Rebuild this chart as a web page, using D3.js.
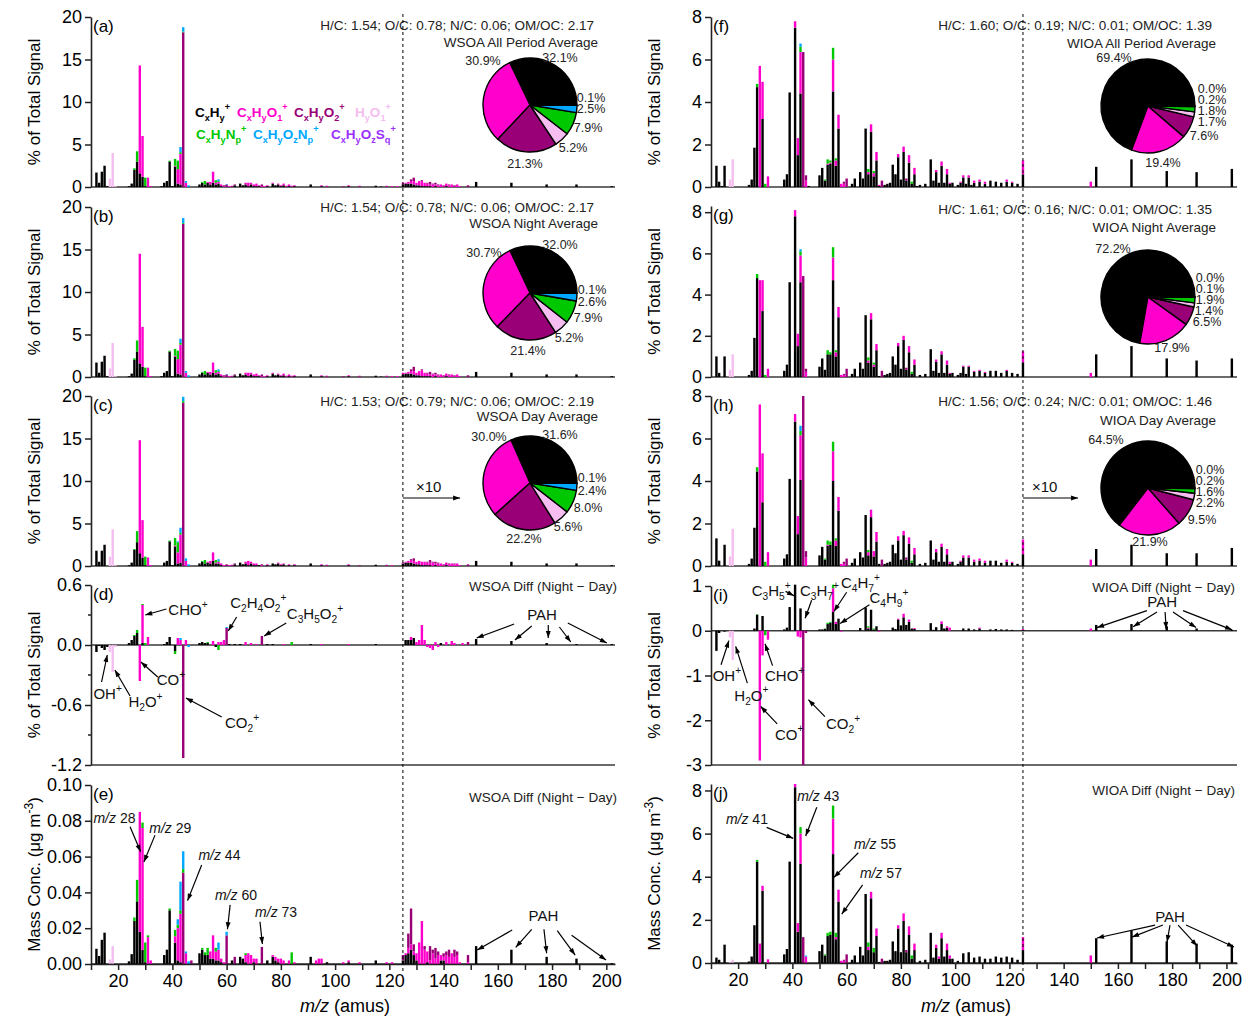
<!DOCTYPE html>
<html>
<head>
<meta charset="utf-8">
<script src="https://cdn.jsdelivr.net/npm/d3@7"></script>
<style>
  body { margin: 0; background: #fff; }
  svg { font-family: Arial, "Liberation Sans", sans-serif; }
</style>
</head>
<body>
<script>
// ion families, in stacking order
var famNames = ["C_xH_y^+", "C_xH_yO_1^+", "C_xH_yO_2^+", "H_yO_1^+", "C_xH_yN_p^+", "C_xH_yO_zN_p^+", "C_xH_yO_zS_q^+"];
var famColors = ["#000000", "#ff00cc", "#990077", "#f5bdf0", "#00c800", "#00a8ff", "#9b30ff"];

// rows: [m/z, CxHy, CxHyO1, CxHyO2, HyO1, CxHyNp, CxHyOzNp]  (m/z > 125 shown x10)
var wsoaAll = [[12,1.7],[13,0.5],[14,1.8],[15,2.5],[16,0.1],[17,0,0,0,1.0],[18,0,0,0,4.0],[19,0,0,0,0.1],
  [24,0.1],[25,0.4],[26,2.0,0,0,0,0.2],[27,3.0,0,0,0,1.2],[28,1.6,12.7],[29,1.2,4.8],[30,0.1,0,0,0,1.0],[31,0,1.1],[32,0,0.1],
  [36,0.1],[37,0.5],[38,0.7],[39,3.0,0,0,0,0.1],[40,0.1],[41,2.4,0.1,0,0,0.8],[42,0.4,1.7,0,0,1.0],[43,0.3,3.6,0,0,0.2,0.6],[44,0,0,18.2,0,0.1,0.5],[45,0,0.5,0,0,0,0.2],[46,0,0,0,0,0,0.2],
  [50,0.3],[51,0.5,0,0,0,0.1],[52,0.3,0,0,0,0.4],[53,0.5,0.1],[54,0.3,0.3],[55,0.5,1.3],[56,0.3,0.2,0,0,0.3],[57,0.4,0.2,0,0,0.1,0.2],[58,0.1,0.2],[59,0,0.1,0.1],[60,0,0,0.3,0,0,0.05],[61,0,0.1],[62,0.05,0.1],[63,0.2,0,0.1],
  [65,0.4],[66,0.2],[67,0.3,0.2],[68,0.1,0.4],[69,0.3,0.2],[70,0.1,0.2],[71,0.1,0.3],[72,0.1,0.1],[73,0,0.1,0.2],[74,0,0.1],[75,0.1,0.1],[77,0.4,0.1],[78,0.2],[79,0.3,0.1],[80,0.1,0.1],[81,0.2,0.2],[82,0.05,0.1],[83,0.1,0.2],[84,0.05,0.1],[85,0.1,0.1],
  [91,0.3],[95,0.1,0.1],[97,0.05,0.1],[103,0.05,0.05],[105,0.1,0.1],[109,0.05,0.1],[115,0.15],[117,0.05],[119,0.05,0.1],[121,0,0.1],[123,0,0.1],
  [125,0.3,0.2],[126,0.4,0.1],[127,0.4,0.2],[128,0.4,0.3,0.2],[129,0.3,0.4,0.4],[130,0.2,0.3],[131,0.2,0.5],[132,0.1,0.6,0.1],[133,0.1,0.4],[134,0.1,0.3,0.1],[135,0.1,0.2,0.3],[136,0,0.3,0.1],[137,0.1,0.2,0.2],[138,0,0.2,0.1],[139,0,0.3],[140,0,0.1,0.1],[141,0.1,0.3],[142,0,0.2,0.1],[143,0,0.3],[144,0,0.1,0.1],[145,0,0.3],[146,0,0.1],[149,0,0,0.2],
  [152,0.6],[165,0.5],[178,0.3],[189,0.3],[202,0.1]];

var wsoaNight = [[12,1.7],[13,0.5],[14,1.8],[15,2.5],[16,0.1],[17,0,0,0,1.0],[18,0,0,0,4.0],[19,0,0,0,0.1],
  [24,0.1],[25,0.4],[26,2.0,0,0,0,0.2],[27,3.0,0,0,0,1.3],[28,1.6,12.9],[29,1.2,4.7],[30,0.1,0,0,0,1.0],[31,0,1.1],[32,0,0.1],
  [36,0.1],[37,0.5],[38,0.7],[39,3.0,0,0,0,0.1],[40,0.1],[41,2.4,0.1,0,0,0.8],[42,0.4,1.7,0,0,1.0],[43,0.3,3.5,0,0,0.2,0.5],[44,0,0,18.0,0,0.1,0.6],[45,0,0.5,0,0,0,0.2],[46,0,0,0,0,0,0.2],
  [50,0.3],[51,0.5,0,0,0,0.1],[52,0.3,0,0,0,0.4],[53,0.5,0.1],[54,0.3,0.3],[55,0.5,1.2],[56,0.3,0.2,0,0,0.3],[57,0.4,0.2,0,0,0.1,0.2],[58,0.1,0.2],[59,0,0.1,0.1],[60,0,0,0.3,0,0,0.05],[61,0,0.1],[62,0.05,0.1],[63,0.2,0,0.1],
  [65,0.4],[66,0.2],[67,0.3,0.2],[68,0.1,0.4],[69,0.3,0.2],[70,0.1,0.2],[71,0.1,0.3],[72,0.1,0.1],[73,0,0.1,0.2],[74,0,0.1],[75,0.1,0.1],[77,0.4,0.1],[78,0.2],[79,0.3,0.1],[80,0.1,0.1],[81,0.2,0.2],[82,0.05,0.1],[83,0.1,0.2],[84,0.05,0.1],[85,0.1,0.1],
  [91,0.3],[95,0.1,0.1],[97,0.05,0.1],[103,0.05,0.05],[105,0.1,0.1],[109,0.05,0.1],[115,0.15],[117,0.05],[119,0.05,0.1],[121,0,0.1],[123,0,0.1],
  [125,0.3,0.2],[126,0.4,0.1],[127,0.4,0.2],[128,0.4,0.3,0.2],[129,0.3,0.4,0.5],[130,0.2,0.3],[131,0.2,0.5],[132,0.1,0.7,0.1],[133,0.1,0.4],[134,0.1,0.3,0.1],[135,0.1,0.2,0.3],[136,0,0.3,0.1],[137,0.1,0.2,0.2],[138,0,0.2,0.1],[139,0,0.3],[140,0,0.1,0.1],[141,0.1,0.3],[142,0,0.2,0.1],[143,0,0.3],[144,0,0.1,0.1],[145,0,0.3],[146,0,0.1],[149,0,0,0.2],
  [152,0.6],[165,0.5],[178,0.3],[189,0.3],[202,0.1]];

var wsoaDay = [[12,1.8],[13,0.5],[14,1.8],[15,2.5],[17,0,0,0,1.1],[18,0,0,0,4.3],[19,0,0,0,0.1],
  [24,0.1],[25,0.4],[26,1.9,0,0,0,0.1],[27,2.8,0,0,0,1.3],[28,1.5,13.3],[29,1.0,4.4],[30,0.1,0,0,0,1.0],[31,0,1.0],[32,0,0.1],
  [37,0.4],[38,0.6],[39,2.9,0,0,0,0.1],[40,0.1],[41,2.3,0.1,0,0,0.9],[42,0.3,1.3,0,0,1.2,0.1],[43,0.4,3.3,0,0,0.2,0.6],[44,0,0,19.2,0,0.2,0.5],[45,0,0.6,0,0,0,0.3],[46,0,0,0,0,0,0.2],
  [50,0.3],[51,0.5,0,0,0,0.1],[52,0.3,0,0,0,0.4],[53,0.4,0.1],[54,0.3,0.3],[55,0.6,1.0],[56,0.3,0.1,0,0,0.3],[57,0.3,0.2,0,0,0.1,0.2],[58,0.1,0.2],[59,0,0.1],[60,0,0,0.2],[61,0,0.1],[62,0.05,0.1],[63,0.2,0,0.1],
  [65,0.4],[66,0.2],[67,0.3,0.2],[68,0.1,0.5],[69,0.3,0.2],[70,0.1,0.2],[71,0.1,0.2],[72,0.1],[73,0,0.1,0.1],[75,0.1,0.1],[77,0.3],[78,0.2],[79,0.3,0.1],[80,0.1,0.1],[81,0.2,0.1],[83,0.1,0.1],[85,0.1,0.1],
  [91,0.3],[95,0.1,0.1],[97,0.05,0.1],[105,0.1,0.1],[109,0.05,0.05],[115,0.15],[119,0.05,0.1],[121,0,0.1],
  [125,0.3,0.1],[126,0.4,0.1],[127,0.4,0.2],[128,0.4,0.3,0.1],[129,0.3,0.3,0.3],[130,0.2,0.3],[131,0.2,0.4],[132,0.1,0.4],[133,0.1,0.4],[134,0.1,0.3,0.1],[135,0.1,0.3,0.3],[136,0,0.4,0.1],[137,0.1,0.2,0.2],[138,0,0.3,0.1],[139,0,0.3],[140,0,0.1,0.1],[141,0.1,0.3],[142,0,0.2,0.1],[143,0,0.3],[144,0,0.2,0.1],[145,0,0.3],[146,0,0.1],[149,0,0,0.2],
  [152,0.6],[165,0.5],[178,0.3],[189,0.3],[202,0.1]];

var wsoaDiff = [[12,-0.07],[13,-0.01],[14,-0.03],[15,-0.05],[16,-0.02],[17,0,0,0,-0.07],[18,0,0,0,-0.27],[19,0,0,0,-0.02],
  [24,0.02],[25,0.05],[26,0.09,0,0,0,0.01],[27,0.12,0,0,0,0.03],[28,0,-0.36],[29,0.02,0.38,0,0,0.01],[30,0,0,0,0,0.02],[31,0,0.08],
  [37,0.01],[38,0.03],[39,0.08],[41,-0.06,0,0,0,-0.03],[42,0,0.07],[43,0,0.05,0,0,0,0.02],[44,0,0,-1.13],[45,0,0.05],[46,0,0,0,0,0,-0.02],
  [50,0.02],[51,0.03],[52,0.02],[53,0.02,0,0,0,0.01],[55,0,0.04],[56,-0.02],[57,0,0.03,0,0,-0.05],[58,0,0.03],[59,0,0.05],[60,0,0,0.17,0,0,0.01],[61,0.01],[63,0.01],
  [65,0.01],[67,0,0.03],[69,0,0.02],[71,0,0.01],[73,0,0,0.09],[75,0.01],[77,0.01],[81,0,0.01],[84,0,0,0,0,0.03],[91,0.01],[95,0,0.01],[105,0,0.01],[115,0.01],
  [126,0.05],[127,0.05],[128,0.05,0.03],[129,0.07],[130,0,0.03],[131,0,0.05],[132,0,0.2],[133,0,0.05],[134,0,-0.02],[135,0,-0.03],[136,0,-0.05],[137,0,0.03],[138,0,-0.02],[139,0.02],[141,0,0.03],[143,0,0.04],[144,0,0.02],[147,0,0.02],[149,0,0,0.03],
  [152,0.06],[165,0.04],[178,0.02],[189,0.01],[202,0.01]];

var wsoaMass = [[12,0.0085],[13,0.0045],[14,0.0135],[15,0.0175],[17,0,0,0,0.0025],[18,0,0,0,0.010],
  [24,0.0015],[25,0.0055],[26,0.024,0,0,0,0.002],[27,0.035,0,0,0,0.012],[28,0.018,0.067],[29,0.008,0.068,0,0,0.003],[30,0.001,0,0,0,0.011],[31,0,0.015,0,0,0.001],[32,0,0.002],
  [37,0.005],[38,0.008],[39,0.030,0,0,0,0.001],[41,0.012,0.0035,0,0,0.0035],[42,0.002,0.018,0,0,0.002,0.003],[43,0.001,0.027,0,0,0.002,0.016],[44,0,0,0.051,0,0.002,0.010],[45,0,0.006,0,0,0,0.001],[46,0,0,0,0,0,0.0015],[47,0,0,0.002],
  [50,0.006],[51,0.008,0,0,0,0.001],[52,0.005,0,0,0,0.0015],[53,0.005,0,0,0,0.004],[54,0.003,0.004],[55,0.003,0.013],[56,0.002,0.005,0,0,0.002],[57,0.002,0.006,0,0,0,0.004],[58,0.001,0.002],[59,0,0.001],[60,0,0,0.016,0,0,0.002],[62,0.002],[63,0,0,0.004],
  [65,0.004],[66,0.003],[67,0.001,0.004,0,0,0.001],[68,0,0.006],[69,0,0.005],[70,0.001,0.002],[71,0,0.003],[73,0,0,0.0095],[75,0.002],[77,0.004,0.001],[78,0.002,0.002],[79,0.001,0.002],[80,0,0.003],[81,0,0.002],[83,0,0.002],[84,0,0,0,0,0.0065],[85,0,0.001],
  [91,0.004],[93,0,0.002],[94,0,0.003],[95,0,0.003],[97,0.001],[103,0,0.001],[105,0.001,0.001],[109,0,0.001],[115,0.002],[119,0,0.001],[121,0,0.001],
  [125,0.002,0,0.003],[126,0.005,0.001],[127,0.006,0.003,0.008],[128,0.008,0.003,0.020],[129,0.005,0.002,0.004],[130,0.002,0.004],[131,0,0.012],[132,0,0.024],[133,0,0.008,0.002],[134,0.001,0.006],[135,0,0.002,0.008],[136,0,0.006,0.002],[137,0,0.003,0.006],[138,0,0.005,0.002],[139,0.002,0.003],[140,0.002,0.002,0.002],[141,0,0.005,0.002],[142,0,0.004,0.004],[143,0,0.006],[144,0,0.004,0.004],[145,0,0.005,0.002],[146,0,0.001],[149,0,0.001,0.004],
  [152,0.010],[165,0.008],[178,0.004],[189,0.003],[202,0.0005]];

var wioaAll = [[12,1.0],[13,0.25],[14,0.05],[15,1.0],[17,0,0,0,0.35],[18,0,0,0,1.3],
  [24,0.1],[25,0.35],[26,1.85],[27,4.7,0,0,0,0.15],[28,0,5.7],[29,3.2,1.75],[30,0,0,0,0,0.15],[31,0,0.5],
  [37,0.35],[38,0.6],[39,4.45],[41,7.5,0.3],[42,1.5,0.8],[43,4.4,1.95,0,0,0.25,0.15],[44,0,0,6.35],[45,0,0.3,0.25],[46,0.05],
  [50,0.55],[51,0.9],[52,0.3,0,0,0,0.05],[53,1.05,0.05,0,0,0.2],[54,1.1,0.05,0,0,0.1],[55,4.5,1.5,0,0,0.55],[56,1.0,0.25,0,0,0.1],[57,2.75,0.65],[58,0,0.15],[59,0,0.15,0.1],[60,0,0,0.4],[62,0.15],[63,0.4],
  [65,0.7],[66,0.4],[67,2.75],[68,0.6,0.1,0,0,0.15],[69,2.6,0.35],[70,0.5,0.15,0,0,0.1],[71,1.25,0.4],[72,0.05,0.05],[73,0,0,0.3],[74,0.1],[75,0.15],[76,0.2],[77,1.05],[78,0.6],[79,1.4,0.15],[80,0.35],[81,1.65,0.25],[82,0.3,0,0.1],[83,1.15,0.35],[84,0.15,0,0,0,0.1],[85,0.6,0.3],[86,0.05],[87,0.1],[89,0.15],
  [91,1.3],[92,0.3],[93,0.7,0.1],[94,0.2],[95,1.0,0.2],[96,0.2],[97,0.6,0.25],[98,0.15,0.05],[99,0.2],
  [101,0.1],[102,0.2,0.05],[103,0.45,0.1],[104,0.15],[105,0.45,0.1],[106,0.1],[107,0.2,0.1],[109,0.25,0.1],[111,0.15,0.1],[113,0.3],[115,0.25],[117,0.2],[119,0.25,0.1],[121,0.2,0.05],[123,0.15],[125,0.6,0.65],
  [150,0,0.25],[152,0.95],[165,1.3],[178,0.75],[189,0.7],[202,0.85]];

var wioaNight = [[12,1.0],[13,0.2],[15,1.0],[17,0,0,0,0.35],[18,0,0,0,1.1],
  [24,0.1],[25,0.3],[26,1.9],[27,4.8,0,0,0,0.2],[28,0,4.7],[29,3.2,1.5],[30,0,0,0,0,0.1],[31,0,0.4],
  [37,0.3],[38,0.6],[39,4.6],[41,7.8,0.3],[42,1.5,0.6],[43,4.6,1.3,0,0,0.2,0.1],[44,0,0,4.9],[45,0,0.25,0.15],
  [50,0.5],[51,0.9],[52,0.35],[53,1.1,0,0,0,0.2],[54,1.1,0,0,0,0.1],[55,4.7,1.1,0,0,0.5],[56,1.0,0.2,0,0,0.1],[57,2.9,0.5],[58,0,0.1],[59,0,0.1,0.05],[60,0,0,0.4],[62,0.15],[63,0.4],
  [65,0.7],[66,0.4],[67,3.0],[68,0.7,0.1,0,0,0.15],[69,2.8,0.3],[70,0.5,0.1,0,0,0.1],[71,1.3,0.3],[72,0.05],[73,0,0,0.3],[74,0.1],[75,0.15],[76,0.2],[77,1.0],[78,0.6],[79,1.5,0.15],[80,0.4],[81,1.8,0.2],[82,0.35,0,0.1],[83,1.2,0.3],[84,0.15,0,0,0,0.1],[85,0.6,0.25],[87,0.1],[89,0.15],
  [91,1.35],[92,0.3],[93,0.75,0.1],[94,0.2],[95,1.1,0.15],[96,0.2],[97,0.6,0.2],[98,0.15,0.05],[99,0.2],
  [101,0.1],[102,0.2],[103,0.5,0.05],[104,0.15],[105,0.5,0.05],[107,0.25,0.05],[109,0.3,0.05],[111,0.2,0.05],[113,0.3],[115,0.3],[117,0.2],[119,0.3,0.05],[121,0.2],[123,0.15],[125,0.7,0.55],
  [150,0,0.2],[152,1.1],[165,1.5],[178,0.9],[189,0.8],[202,0.9]];

var wioaDay = [[12,1.3],[13,0.25],[15,1.0],[17,0,0,0,0.45],[18,0,0,0,1.75],
  [24,0.1],[25,0.35],[26,1.8],[27,4.45,0,0,0,0.2],[28,0,7.6],[29,3.0,2.3],[30,0,0,0,0,0.2],[31,0,0.65],
  [37,0.35],[38,0.55],[39,4.1],[41,6.8,0.35],[42,1.5,0.85],[43,4.05,2.1,0,0,0.2,0.25],[44,0,0,8.0],[45,0,0.4,0.3],
  [50,0.5],[51,0.9],[52,0.3,0,0,0,0.05],[53,0.95,0.05,0,0,0.2],[54,1.0,0,0,0,0.15],[55,4.0,1.4,0,0,0.45],[56,0.95,0.25,0,0,0.1],[57,2.6,0.65],[58,0,0.1],[59,0,0.1,0.1],[60,0,0,0.35],[62,0.15],[63,0.35],
  [65,0.65],[66,0.4],[67,2.4],[68,0.5,0.15,0,0,0.1],[69,2.3,0.35],[70,0.45,0.25],[71,1.15,0.45],[72,0.1],[73,0,0,0.3],[74,0.1],[75,0.15],[76,0.2],[77,1.0],[78,0.6],[79,1.2,0.2],[80,0.3],[81,1.45,0.2],[82,0.3,0,0.1],[83,1.05,0.3],[84,0.15,0,0,0,0.1],[85,0.55,0.3],[87,0.1],[89,0.15],
  [91,1.2],[92,0.3],[93,0.65,0.15],[94,0.2],[95,0.9,0.15],[96,0.2],[97,0.55,0.25],[98,0.1,0.1],[99,0.2],
  [101,0.1],[102,0.2,0.05],[103,0.4,0.1],[105,0.4,0.1],[107,0.2,0.1],[109,0.25,0.1],[111,0.15,0.1],[113,0.25],[115,0.25],[117,0.15],[119,0.2,0.1],[121,0.15,0.05],[123,0.1],[125,0.55,0.7],
  [150,0,0.3],[152,0.8],[165,1.0],[178,0.6],[189,0.6],[202,0.85]];

var wioaDiff = [[12,-0.45],[13,-0.05],[15,-0.02],[17,0,0,0,-0.15],[18,0,0,0,-0.65],
  [26,0.05],[27,0.36,0,0,0,0.01],[28,0,-2.9],[29,0.33,-0.55],[30,0,0,0,0,-0.1],[31,0,-0.2],
  [37,0.03],[38,0.07],[39,0.53],[41,1.03],[42,0,-0.13],[43,0.5,-0.15],[44,0,0,-3.0],[45,0,0,-0.05],
  [50,0.03],[51,0.03],[52,0.04,0,0,0,0.01],[53,0.15,0,0,0,0.03],[54,0.18,0,0,0,0.02],[55,0.42,0.53,0,0,0.08],[56,0.15,0.05],[57,0.27],[58,0,-0.02],
  [65,0.06],[67,0.52],[68,0.05,0.02,0,0,0.03],[69,0.47],[70,0.03,0,0,0,0.02],[71,0.1],[72,0,-0.02],
  [77,0.07],[78,0.04],[79,0.25,0.02],[80,0.12],[81,0.3,0.08],[82,0.13],[83,0.2,0.05],[84,0.05],[85,0.04,0.02],
  [91,0.17],[92,0.02],[93,0.08],[95,0.15,0.06],[96,0.05],[97,0.07,0.03],[98,0,0.07],
  [103,0.05],[105,0.05],[107,0.03],[109,0.05,0.02],[113,0.03],[115,0.04],[117,0.03],[119,0.03],[121,0.02],[125,0.02,0.02],
  [150,0,0.05],[152,0.13],[165,0.15],[178,0.1],[189,0.05],[202,0.02]];

var wioaMass = [[12,0.25],[13,0.15],[15,0.85],[17,0,0,0,0.05],[18,0,0,0,0.15],
  [24,0.07],[25,0.3],[26,1.75],[27,4.7,0,0,0,0.08],[28,0,0.9],[29,3.35,0.23],[30,0,0,0,0,0.02],[31,0,0.17],
  [37,0.4],[38,0.65],[39,4.7],[41,8.15,0.15],[42,1.45,0.4],[43,4.6,1.4,0,0,0.3],[44,0,0,1.2],[45,0,0.3,0,0,0,0.05],
  [50,0.55],[51,0.85],[52,0.35,0,0,0,0.05],[53,1.25,0,0,0,0.15],[54,1.3,0,0,0,0.15],[55,5.05,1.65,0,0,0.6],[56,1.1,0.1,0,0,0.2],[57,2.85,0.55],[58,0,0.1],[59,0,0.1,0.05],[60,0,0,0.4],[62,0.15],[63,0.35],
  [65,0.75],[66,0.35],[67,3.2],[68,0.6,0.15,0,0,0.2],[69,3.0,0.3],[70,0.5,0,0,0,0.2],[71,1.25,0.35],[72,0.05],[73,0,0,0.2],[74,0.1],[75,0.1],[76,0.15],[77,1.0],[78,0.55],[79,1.6,0.15],[80,0.5],[81,1.95,0.35],[82,0.5,0,0.1],[83,1.3,0.4],[84,0.2,0,0,0,0.15],[85,0.6,0.3],[87,0.1],[89,0.15],
  [91,1.4],[92,0.25],[93,0.7,0.15],[94,0.2,0.1],[95,1.15,0.25],[96,0.3],[97,0.6,0.3],[98,0.2,0.15],[99,0.2],
  [101,0.1],[103,0.45],[105,0.5],[107,0.25],[109,0.3],[111,0.2],[113,0.2],[115,0.3],[117,0.25],[119,0.3],[121,0.25],[123,0.15],[125,0.6,0.6],
  [150,0,0.35],[152,1.15],[165,1.5],[178,1.0],[189,0.9],[202,0.85]];

// pie shares (%), family order
var wsoaAllPie = [32.1, 30.9, 21.3, 5.2, 7.9, 2.5, 0.1];
var wsoaNightPie = [32.0, 30.7, 21.4, 5.2, 7.9, 2.6, 0.1];
var wsoaDayPie = [31.6, 30.0, 22.2, 5.6, 8.0, 2.4, 0.1];
var wioaAllPie = [69.4, 19.4, 7.6, 1.7, 1.8, 0.2, 0.0];
var wioaNightPie = [72.2, 17.9, 6.5, 1.4, 1.9, 0.1, 0.0];
var wioaDayPie = [64.5, 21.9, 9.5, 2.2, 1.6, 0.2, 0.0];

var headers = ["H/C: 1.54; O/C: 0.78; N/C: 0.06; OM/OC: 2.17", "H/C: 1.54; O/C: 0.78; N/C: 0.06; OM/OC: 2.17",
  "H/C: 1.53; O/C: 0.79; N/C: 0.06; OM/OC: 2.19", "H/C: 1.60; O/C: 0.19; N/C: 0.01; OM/OC: 1.39",
  "H/C: 1.61; O/C: 0.16; N/C: 0.01; OM/OC: 1.35", "H/C: 1.56; O/C: 0.24; N/C: 0.01; OM/OC: 1.46"];

// label offsets around each pie (px from centre)
var labA = [[30,-43],[-47,-40],[-5,63],[43,47],[58,27],[61,8],[61,-3]];
var labB = [[30,-44],[-46,-36],[-2,62],[39,49],[58,29],[62,13],[62,1]];
var labC = [[30,-44],[-41,-42],[-6,60],[38,48],[58,29],[62,12],[62,-1]];
var labF = [[-34,-44],[15,61],[56,34],[64,20],[64,9],[64,-2],[64,-13]];
var labG = [[-35,-44],[24,55],[59,29],[61,18],[62,7],[62,-4],[62,-15]];
var labH = [[-42,-44],[2,58],[54,36],[62,19],[62,8],[62,-3],[62,-14]];

// annotations in data units: text at, arrow from -> to
var annD = [
  {t: "CHO^+", at: [38.5, 0.30], arr: [[37.8, 0.36, 30.0, 0.30]]},
  {t: "C_2H_4O_2^+", at: [61.3, 0.37], arr: [[63.7, 0.28, 60.6, 0.14]]},
  {t: "C_3H_5O_2^+", at: [82.2, 0.26], arr: [[82.0, 0.22, 73.8, 0.09]]},
  {t: "OH^+", at: [10.9, -0.54], arr: [[13.9, -0.37, 16.0, -0.10]]},
  {t: "H_2O^+", at: [23.8, -0.62], arr: [[24.4, -0.51, 18.8, -0.25]]},
  {t: "CO^+", at: [34.2, -0.40], arr: [[34.6, -0.32, 28.4, -0.17]]},
  {t: "CO_2^+", at: [59.4, -0.83], arr: [[58.2, -0.72, 45.0, -0.53]]},
  {t: "PAH", mid: true, at: [176.3, 0.25], arr: [[166.0, 0.21, 152.2, 0.07], [172.5, 0.19, 166.3, 0.05], [178.6, 0.20, 178.6, 0.07], [182.7, 0.18, 186.9, 0.03], [185.8, 0.22, 200.2, 0.02]]}
];
var annE = [
  {mz: "28", at: [10.9, 0.0786], arr: [[24.4, 0.0767, 28.3, 0.0627]]},
  {mz: "29", at: [31.5, 0.073], arr: [[33.6, 0.072, 29.5, 0.057]]},
  {mz: "44", at: [49.6, 0.0581], arr: [[50.8, 0.0553, 45.6, 0.0354]]},
  {mz: "60", at: [55.7, 0.0358], arr: [[61.3, 0.033, 60.3, 0.0194]]},
  {mz: "73", at: [70.5, 0.0264], arr: [[72.3, 0.0236, 73.2, 0.0112]]},
  {t: "PAH", mid: true, at: [176.8, 0.0242], arr: [[165.3, 0.019, 152.4, 0.0078], [172.5, 0.0194, 166.6, 0.0093], [177.0, 0.0194, 178.0, 0.006], [181.9, 0.0186, 188.5, 0.005], [187.2, 0.016, 199.9, 0.0022]]}
];
var annI = [
  {t: "C_3H_5^+", at: [25.0, 0.77], arr: [[37.5, 0.88, 40.6, 0.78]]},
  {t: "C_3H_7^+", at: [42.8, 0.77], arr: [[47.1, 0.68, 44.7, 0.28]]},
  {t: "C_4H_7^+", at: [57.9, 0.95], arr: [[60.0, 0.86, 55.3, 0.43]]},
  {t: "C_4H_9^+", at: [68.4, 0.62], arr: [[68.4, 0.58, 57.6, 0.16]]},
  {t: "OH^+", at: [10.6, -1.13], arr: [[13.7, -0.76, 16.6, -0.22]]},
  {t: "H_2O^+", at: [18.6, -1.56], arr: [[23.4, -1.17, 19.1, -0.35]]},
  {t: "CHO^+", at: [29.9, -1.13], arr: [[32.7, -0.78, 29.9, -0.29]]},
  {t: "CO^+", at: [33.6, -2.44], arr: [[34.4, -2.08, 28.3, -1.69]]},
  {t: "CO_2^+", at: [52.4, -2.2], arr: [[52.0, -1.92, 45.9, -1.54]]},
  {t: "PAH", mid: true, at: [176.3, 0.54], arr: [[170.7, 0.45, 152.3, 0.07], [174.4, 0.42, 165.6, 0.09], [177.4, 0.42, 177.8, 0.04], [180.3, 0.42, 188.8, 0.07], [184.0, 0.45, 202.1, 0.02]]}
];
var annJ = [
  {mz: "41", at: [15.5, 6.44], arr: [[30.5, 6.29, 40.3, 5.78]]},
  {mz: "43", at: [41.8, 7.52], arr: [[49.0, 7.22, 44.9, 5.89]]},
  {mz: "55", at: [62.7, 5.28], arr: [[64.3, 5.11, 55.3, 3.97]]},
  {mz: "57", at: [64.9, 3.93], arr: [[65.9, 3.62, 58.2, 2.27]]},
  {t: "PAH", mid: true, at: [179.2, 1.9], arr: [[173.7, 1.76, 152.3, 1.16], [176.6, 1.76, 165.2, 1.2], [179.2, 1.76, 178.1, 0.97], [182.2, 1.76, 189.2, 0.79], [185.1, 1.76, 202.8, 0.74]]}
];
var annC = [{t: "×10", at: [129.8, 8.7], arr: [[125, 8.0, 146.1, 8.0]]}];
var annH = [{t: "×10", at: [128.3, 3.48], arr: [[125, 3.2, 145.3, 3.2]]}];

var svg = d3.select("body").append("svg").attr("width", 1252).attr("height", 1019);

svg.append("defs").append("marker")
  .attr("id", "arr").attr("viewBox", "0 0 10 10").attr("refX", 10).attr("refY", 5)
  .attr("markerUnits", "userSpaceOnUse").attr("markerWidth", 8).attr("markerHeight", 7)
  .attr("orient", "auto")
  .append("path").attr("d", "M0,1.5L10,5L0,8.5z").attr("fill", "#000");

var xLeft = d3.scaleLinear().domain([10, 203.2]).range([91, 615]);
var xRight = d3.scaleLinear().domain([10, 203.9]).range([711, 1237]);

function formula(sel, str, size) {
  var parts = [];
  for (var i = 0; i < str.length; ) {
    var c = str[i];
    if (c === "_" || c === "^") { parts.push([str[i + 1], c]); i += 2; }
    else {
      var j = i;
      while (j < str.length && str[j] !== "_" && str[j] !== "^") j++;
      parts.push([str.slice(i, j), ""]);
      i = j;
    }
  }
  var cur = 0;
  parts.forEach(function(p) {
    var off = p[1] === "_" ? size * 0.28 : p[1] === "^" ? -size * 0.5 : 0;
    sel.append("tspan").attr("dy", off - cur)
      .attr("font-size", p[1] ? size * 0.68 : size)
      .text(p[0]);
    cur = off;
  });
}

var stack = d3.stack()
  .keys([1, 2, 3, 4, 5, 6])
  .value(function(d, k) { return d[k] || 0; })
  .offset(d3.stackOffsetDiverging);

var fmtInt = d3.format("d");

var panels = [
  {id: "a", x: xLeft, rows: wsoaAll, top: 17, bottom: 187, domain: [0, 20], ticks: [0, 5, 10, 15, 20], fmt: fmtInt,
    pie: wsoaAllPie, pieAt: [530, 105], lab: labA, head: headers[0], title: "WSOA All Period Average", hy: 30, ty: 47, yl: "pct"},
  {id: "b", x: xLeft, rows: wsoaNight, top: 207, bottom: 377, domain: [0, 20], ticks: [0, 5, 10, 15, 20], fmt: fmtInt,
    pie: wsoaNightPie, pieAt: [530, 293], lab: labB, head: headers[1], title: "WSOA Night Average", hy: 212, ty: 228, yl: "pct"},
  {id: "c", x: xLeft, rows: wsoaDay, top: 396, bottom: 566, domain: [0, 20], ticks: [0, 5, 10, 15, 20], fmt: fmtInt,
    pie: wsoaDayPie, pieAt: [530, 483], lab: labC, head: headers[2], title: "WSOA Day Average", hy: 406, ty: 421, yl: "pct", ann: annC},
  {id: "d", x: xLeft, rows: wsoaDiff, top: 585, bottom: 765, domain: [-1.2, 0.6], ticks: [-1.2, -0.6, 0, 0.6], minor: [-0.9, -0.3, 0.3],
    fmt: function(d) { return d.toFixed(1); }, title: "WSOA Diff (Night \u2212 Day)", ty: 591, yl: "pct", ann: annD},
  {id: "e", x: xLeft, rows: wsoaMass, top: 785, bottom: 964, domain: [0, 0.1], ticks: [0, 0.02, 0.04, 0.06, 0.08, 0.1],
    fmt: function(d) { return d.toFixed(2); }, title: "WSOA Diff (Night \u2212 Day)", ty: 802, yl: "mass", ann: annE, xaxis: true},
  {id: "f", x: xRight, rows: wioaAll, top: 17, bottom: 187, domain: [0, 8], ticks: [0, 2, 4, 6, 8], fmt: fmtInt,
    pie: wioaAllPie, pieAt: [1148, 106], lab: labF, head: headers[3], title: "WIOA All Period Average", hy: 30, ty: 48, yl: "pct"},
  {id: "g", x: xRight, rows: wioaNight, top: 206, bottom: 377, domain: [0, 8.3], ticks: [0, 2, 4, 6, 8], fmt: fmtInt,
    pie: wioaNightPie, pieAt: [1148, 297], lab: labG, head: headers[4], title: "WIOA Night Average", hy: 214, ty: 232, yl: "pct"},
  {id: "h", x: xRight, rows: wioaDay, top: 396, bottom: 566, domain: [0, 8], ticks: [0, 2, 4, 6, 8], fmt: fmtInt,
    pie: wioaDayPie, pieAt: [1148, 488], lab: labH, head: headers[5], title: "WIOA Day Average", hy: 406, ty: 425, yl: "pct", ann: annH},
  {id: "i", x: xRight, rows: wioaDiff, top: 586, bottom: 765, domain: [-3, 1], ticks: [-3, -2, -1, 0, 1],
    fmt: function(d) { return String(d); }, title: "WIOA Diff (Night \u2212 Day)", ty: 592, yl: "pct", ann: annI},
  {id: "j", x: xRight, rows: wioaMass, top: 784, bottom: 963, domain: [0, 8.3], ticks: [0, 2, 4, 6, 8], fmt: fmtInt,
    title: "WIOA Diff (Night \u2212 Day)", ty: 795, yl: "mass", ann: annJ, xaxis: true}
];

panels.forEach(function(p) {
  var x = p.x;
  var x0 = x.range()[0], x1 = x.range()[1];
  var y = d3.scaleLinear().domain(p.domain).range([p.bottom, p.top]);
  var g = svg.append("g").attr("class", "panel-" + p.id);

  // zero line / bottom line
  g.append("line").attr("x1", x0).attr("x2", x1).attr("y1", y(0)).attr("y2", y(0))
    .attr("stroke", "#3a3a3a").attr("stroke-width", 1.5);
  if (p.domain[0] < 0) {
    g.append("line").attr("x1", x0).attr("x2", x1).attr("y1", p.bottom).attr("y2", p.bottom)
      .attr("stroke", "#3a3a3a").attr("stroke-width", 1.5);
  }

  // stacked bars
  g.selectAll("g.fam").data(stack(p.rows)).enter().append("g")
    .attr("class", "fam")
    .attr("fill", function(s) { return famColors[s.key - 1]; })
    .selectAll("rect").data(function(s) { return s.filter(function(d) { return d[1] !== d[0]; }); })
    .enter().append("rect")
    .attr("x", function(d) { return x(d.data[0]) - 1.2; })
    .attr("width", 2.4)
    .attr("y", function(d) { return y(Math.max(d[0], d[1])); })
    .attr("height", function(d) { return Math.abs(y(d[0]) - y(d[1])); });

  // y axis
  var ax = g.append("g").attr("transform", "translate(" + x0 + ",0)")
    .call(d3.axisLeft(y).tickValues(p.ticks).tickFormat(p.fmt).tickSize(6).tickPadding(3).tickSizeOuter(0));
  ax.attr("font-size", 18).attr("font-family", null);
  ax.select(".domain").attr("stroke", "#222").attr("stroke-width", 1.6);
  ax.selectAll(".tick line").attr("stroke", "#222").attr("stroke-width", 1.5);
  ax.selectAll(".tick text").attr("fill", "#000");
  if (p.minor) {
    g.selectAll("line.minor").data(p.minor).enter().append("line")
      .attr("x1", x0 - 3).attr("x2", x0).attr("y1", y).attr("y2", y)
      .attr("stroke", "#222").attr("stroke-width", 1.5);
  }

  // x axis
  if (p.xaxis) {
    var bx = g.append("g").attr("transform", "translate(0," + p.bottom + ")")
      .call(d3.axisBottom(x).tickValues(d3.range(10, 201, 10))
        .tickFormat(function(d) { return d % 20 ? "" : d; }).tickSize(6).tickPadding(4).tickSizeOuter(0));
    bx.attr("font-size", 18).attr("font-family", null);
    bx.select(".domain").attr("stroke", "#222").attr("stroke-width", 1.6);
    bx.selectAll(".tick line").attr("stroke", "#222").attr("stroke-width", 1.5);
    bx.selectAll(".tick text").attr("fill", "#000");
    var xl = g.append("text").attr("x", (x0 + x1) / 2 - 8).attr("y", 1012)
      .attr("text-anchor", "middle").attr("font-size", 18);
    xl.append("tspan").attr("font-style", "italic").text("m/z");
    xl.append("tspan").text(" (amus)");
  }

  // panel letter
  g.append("text").attr("x", x0 + 2).attr("y", p.top + 15).attr("font-size", 17).text("(" + p.id + ")");

  // header + title
  var right = x0 === 91 ? 594 : 1212;
  if (p.head) {
    g.append("text").attr("x", right).attr("y", p.hy).attr("text-anchor", "end")
      .attr("font-size", 13.5).attr("fill", "#222").text(p.head);
  }
  g.append("text").attr("x", right + (p.head ? 4 : 23)).attr("y", p.ty).attr("text-anchor", "end")
    .attr("font-size", 13.5).attr("fill", "#222").text(p.title);

  // y label
  var lx = x0 === 91 ? 40 : 660;
  var cy = (p.top + p.bottom) / 2;
  var yl = g.append("text").attr("transform", "translate(" + lx + "," + cy + ") rotate(-90)")
    .attr("text-anchor", "middle").attr("font-size", 17);
  if (p.yl === "pct") {
    yl.text("% of Total Signal");
  } else {
    yl.append("tspan").text("Mass Conc. (\u03bcg m");
    yl.append("tspan").attr("dy", -7).attr("font-size", 12).text("-3");
    yl.append("tspan").attr("dy", 7).text(")");
  }

  // pie
  if (p.pie) {
    var pie = d3.pie().sort(null).startAngle(Math.PI / 2).endAngle(Math.PI / 2 - 2 * Math.PI);
    var arc = d3.arc().innerRadius(0).outerRadius(47);
    var pg = g.append("g").attr("transform", "translate(" + p.pieAt[0] + "," + p.pieAt[1] + ")");
    pg.selectAll("path").data(pie(p.pie)).enter().append("path")
      .attr("d", arc)
      .attr("fill", function(d, i) { return famColors[i]; })
      .attr("stroke", "#000").attr("stroke-width", 1.4).attr("stroke-linejoin", "round");
    pg.selectAll("text").data(p.pie).enter().append("text")
      .attr("x", function(d, i) { return p.lab[i][0]; })
      .attr("y", function(d, i) { return p.lab[i][1]; })
      .attr("text-anchor", "middle").attr("font-size", 12.5).attr("fill", "#222")
      .text(function(d) { return d.toFixed(1) + "%"; });
  }

  // annotations
  (p.ann || []).forEach(function(a) {
    a.arr.forEach(function(r) {
      g.append("line").attr("x1", x(r[0])).attr("y1", y(r[1])).attr("x2", x(r[2])).attr("y2", y(r[3]))
        .attr("stroke", "#000").attr("stroke-width", 1.2).attr("marker-end", "url(#arr)");
    });
    var t = g.append("text").attr("x", x(a.at[0])).attr("y", y(a.at[1]))
      .attr("text-anchor", a.mid ? "middle" : "start").attr("fill", "#111");
    if (a.mz) {
      t.attr("font-size", 14);
      t.append("tspan").attr("font-style", "italic").text("m/z");
      t.append("tspan").text(" " + a.mz);
    } else {
      t.attr("font-size", 15);
      formula(t, a.t, 15);
    }
  });
});

// dashed line at m/z 125 (x10 region)
[xLeft, xRight].forEach(function(x) {
  svg.append("line").attr("x1", x(125)).attr("x2", x(125)).attr("y1", 14).attr("y2", 974)
    .attr("stroke", "#000").attr("stroke-width", 1).attr("stroke-dasharray", "3,3");
});

// legend in (a)
var legendPos = [[195, 117], [237, 117], [294, 117], [355, 117], [196, 139], [253, 139], [331, 139]];
famNames.forEach(function(n, i) {
  var t = svg.append("text").attr("x", legendPos[i][0]).attr("y", legendPos[i][1])
    .attr("font-weight", "bold").attr("fill", famColors[i]);
  formula(t, n, 13.5);
});
</script>
</body>
</html>
